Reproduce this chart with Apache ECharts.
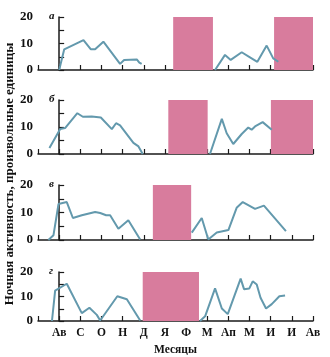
<!DOCTYPE html>
<html><head><meta charset="utf-8">
<script src="https://cdn.jsdelivr.net/npm/echarts@6/dist/echarts.min.js"></script>
<style>html,body{margin:0;padding:0;background:#fff}#c{width:330px;height:357px}</style>
</head><body><div id="c"></div>
<script>
// Month tick labels (x positions 0..12)
const monthLabels = ['Ав','С','О','Н','Д','Я','Ф','М','Ап','М','И','И','Ав'];
const panelLetters = ['а','б','в','г'];
const yTickLabels = [0, 10, 20];

// Panel а
const aSeg1 = [[0,0],[0.24,7.8],[1.15,11.3],[1.50,7.8],[1.70,7.8],[2.09,10.7],[2.88,2.3],[3.07,3.8],[3.67,4.0],[3.79,2.8],[3.9,2.3]];
const aSeg2 = [[7.37,0],[7.84,5.7],[8.11,3.8],[8.63,6.7],[9.02,4.8],[9.37,3.1],[9.81,9.2],[10.12,4.4],[10.36,3.1]];
const aShade = [[5.39,7.27],[10.16,12]];
// Panel б
const bSeg1 = [[-0.46,2.2],[0.05,9.3],[0.28,9.6],[0.86,15.1],[1.12,13.8],[1.54,13.9],[1.97,13.5],[2.49,9.2],[2.69,11.4],[2.88,10.6],[3.51,4.1],[3.75,2.8],[3.95,0]];
const bSeg2 = [[7.13,0],[7.69,13.0],[7.92,7.7],[8.23,3.7],[8.63,7.4],[8.94,9.8],[9.10,9.0],[9.26,10.2],[9.62,11.8],[10.05,9.0]];
const bShade = [[5.16,7.02],[10.01,12]];
// Panel в
const vSeg1 = [[-0.51,0],[-0.27,1.7],[-0.03,13.1],[0.36,13.8],[0.65,8.0],[1.07,9.0],[1.70,10.2],[1.94,9.8],[2.22,9.0],[2.41,9.0],[2.80,4.1],[3.27,7.2],[3.83,0.2]];
const vSeg2 = [[6.27,2.7],[6.74,8.0],[7.05,0.2],[7.45,2.7],[8.00,3.6],[8.39,11.7],[8.68,13.8],[9.26,11.3],[9.68,12.5],[10.72,3.2]];
const vShade = [[4.43,6.24]];
// Panel г
const gSeg1 = [[-0.34,0],[-0.19,12.4],[0.36,15.2],[1.07,3.2],[1.43,5.4],[1.78,2.5],[1.94,0.2],[2.75,10.1],[3.20,8.9],[3.83,0.2]];
const gSeg2 = [[6.66,0],[6.90,1.9],[7.37,13.3],[7.69,5.1],[7.97,2.8],[8.58,17.3],[8.74,13.0],[8.99,13.3],[9.15,16.2],[9.34,14.9],[9.52,9.5],[9.78,5.1],[10.05,6.9],[10.41,10.1],[10.68,10.4]];
const gShade = [[3.95,6.61]];

const panels = [
  {segs:[aSeg1,aSeg2], shade:aShade, top:17, height:53},
  {segs:[bSeg1,bSeg2], shade:bShade, top:100, height:54},
  {segs:[vSeg1,vSeg2], shade:vShade, top:185, height:55},
  {segs:[gSeg1,gSeg2], shade:gShade, top:272, height:53}
];

const FONT = '"Liberation Serif", "DejaVu Serif", serif';
const LINE = '#6399ad';
const PINK = '#d87c9d';
const AX = '#1a1a1a';

const grid=[], xAxis=[], yAxis=[], series=[], graphic=[];
panels.forEach((p,i)=>{
  grid.push({left:38, right:17, top:p.top, height:p.height});
  const last = i===panels.length-1;
  xAxis.push({type:'value', gridIndex:i, min:-1, max:12, interval:1,
    axisLine:{lineStyle:{color:AX,width:1.5}},
    axisTick:{inside:true,length:5,lineStyle:{color:AX,width:1.2}},
    splitLine:{show:false},
    axisLabel:{show:last, margin:6, color:'#111', fontFamily:FONT, fontWeight:'bold', fontSize:11.5,
      formatter:v=> (v>=0 && v<monthLabels.length)? monthLabels[Math.round(v)] : ''},
    name: last? 'Месяцы':'', nameLocation:'middle', nameGap:23,
    nameTextStyle:{color:'#111', fontFamily:FONT, fontWeight:'bold', fontSize:11.5}
  });
  yAxis.push({type:'value', gridIndex:i, min:0, max:20, interval:5,
    axisLine:{show:true, lineStyle:{color:AX,width:1.5}},
    axisTick:{show:true, inside:true, length:5, lineStyle:{color:AX,width:1.2}},
    splitLine:{show:false},
    axisLabel:{margin:5, color:'#111', fontFamily:FONT, fontWeight:'bold', fontSize:13,
      formatter:v=> yTickLabels.includes(v)? String(v): ''}
  });
  p.segs.forEach((seg,k)=>{
    const s = {type:'line', xAxisIndex:i, yAxisIndex:i, data:seg, symbol:'none',
      lineStyle:{color:LINE, width:2}, z:3, silent:true};
    if(k===0){
      s.markArea = {silent:true, itemStyle:{color:PINK, opacity:1},
        data: p.shade.map(r=>[{xAxis:r[0], yAxis:0},{xAxis:r[1], yAxis:20}])};
    }
    series.push(s);
  });
  graphic.push({type:'text', left:49, top:p.top-6, style:{text:panelLetters[i], fill:'#111',
    font:'italic bold 11px '+FONT}});
});
graphic.push({type:'text', x:3, y:174, rotation:Math.PI/2, style:{text:'Ночная активность, произвольные единицы',
  fill:'#111', font:'bold 13px '+FONT, textAlign:'center', textVerticalAlign:'top'}});

const chart = echarts.init(document.getElementById('c'), null, {renderer:'canvas'});
chart.setOption({animation:false, grid, xAxis, yAxis, series, graphic});
</script></body></html>
